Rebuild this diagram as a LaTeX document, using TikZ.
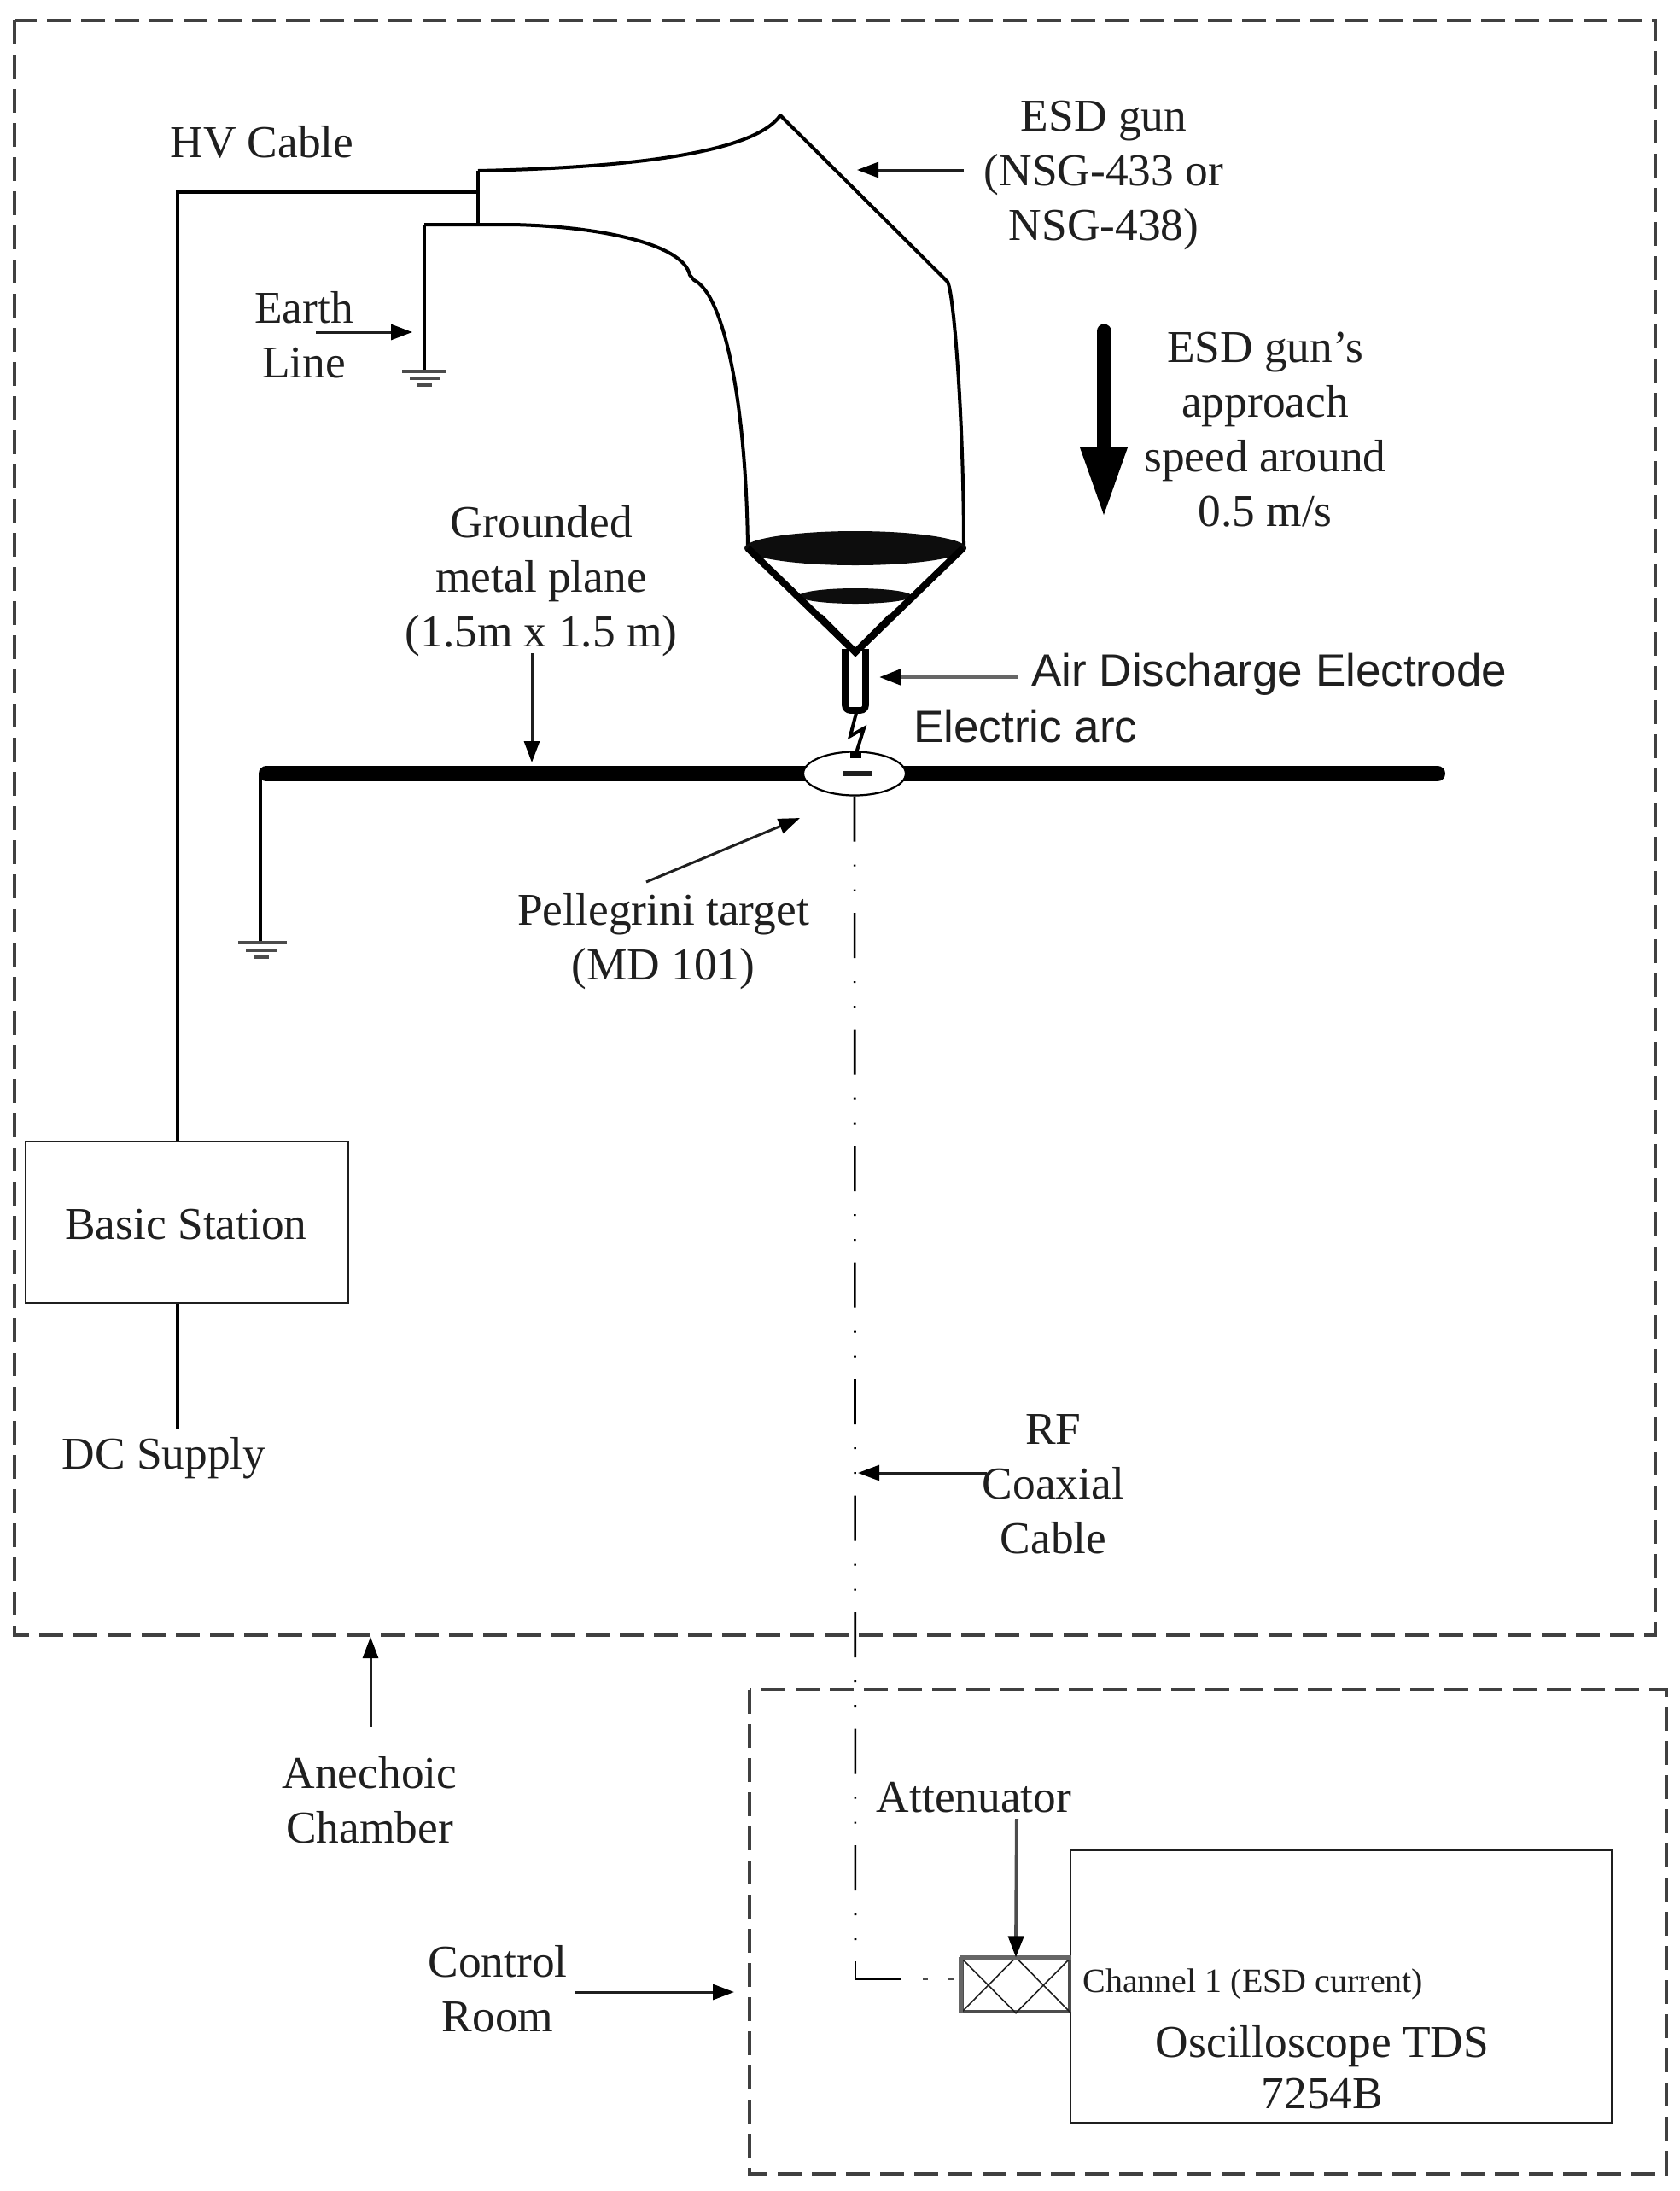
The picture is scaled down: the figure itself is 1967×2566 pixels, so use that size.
\documentclass[tikz,border=0pt]{standalone}
\usepackage{fontspec}
\setmainfont{Liberation Serif}
\newfontfamily\sansf{Liberation Sans}
\usetikzlibrary{arrows.meta,shapes.geometric}
\definecolor{ink}{gray}{0.12}
\tikzset{
  lbl/.style={text=ink,font=\fontsize{26.7}{32}\selectfont,align=center,inner sep=0pt},
  sanslbl/.style={text=ink,font=\sansf\fontsize{26.5}{32}\selectfont,anchor=west,inner sep=0pt},
  wire/.style={line width=1.6pt,draw=black},
  arr/.style={line width=1.5pt,draw=ink,-{Triangle[length=12.5pt,width=9pt,color=black]}},
  boundary/.style={line width=1.8pt,draw=black!75,dash pattern=on 14pt off 6pt},
  box/.style={draw=ink,line width=1.3pt,inner sep=0pt,fill=white},
  gun/.style={line width=2pt,draw=black,line join=round},
  coax/.style={line width=1.3pt,draw=black,dash pattern=on 26.5pt off 13.5pt on 1pt off 13.5pt on 1pt off 12.75pt},
  gnd/.style={draw=black!70,line width=2.4pt},
}
\begin{document}
\begin{tikzpicture}[x=0.5pt,y=-0.5pt]
\useasboundingbox (0,0) rectangle (1967,2566);
% boundaries
\draw[boundary] (17,24) rectangle (1939,1915);
\draw[boundary] (878,1979) rectangle (1952,2546);
% gun body
\draw[gun] (560,200) .. controls (700,197) and (880,185) .. (914,135)
  -- (1110,330) .. controls (1118,345) and (1129,500) .. (1129,642);
\draw[gun] (497,263) -- (600,263) .. controls (700,265) and (800,285) .. (808,322)
  -- (813,328) .. controls (848,345) and (874,470) .. (876,642);
\draw[wire] (560,200) -- (560,263);
% HV + earth
\node[box,minimum width=189pt,minimum height=94.5pt] (bs) at (219,1431.5) {};
\node[lbl] (bstxt) at (218,1434) {Basic Station};
\coordinate (hv1) at (208,225);
\coordinate (hv2) at (560,225);
\draw[wire] (bs.north -| hv1) -- (hv1) -- (hv2);
\coordinate (dc) at (208,1673);
\draw[wire] (bs.south -| dc) -- (dc);
\coordinate (e1) at (497,263);
\coordinate (g1) at (497,435);
\draw[wire] (e1) -- (g1);
\draw[gnd] (471,435) -- (522,435) (480,443) -- (515,443) (488,451) -- (506,451);
% gun head
\fill[black!95] (1002,642) ellipse (130 and 20);
\fill[black!95] (1002,698) ellipse (66 and 9);
\draw[line width=4pt,line join=miter,draw=black] (876,642) -- (1002,764) -- (1128,642);
\draw[line width=3.8pt,draw=black,fill=white,rounded corners=3pt] (990,760) -- (990,832) -- (1014,832) -- (1014,760);
\draw[line width=4pt,line join=miter,draw=black] (960,722) -- (1002,764) -- (1044,722);
% plane and target
\draw[line width=9pt,line cap=round,draw=black] (312,906) -- (1684,906);
\coordinate (pg) at (305,906);
\coordinate (pg2) at (305,1104);
\draw[wire] (pg) -- (pg2);
\draw[gnd] (279,1104) -- (336,1104) (288,1113) -- (325,1113) (298,1121) -- (315,1121);
\node[ellipse,draw=black,line width=1.1pt,fill=white,minimum width=60pt,minimum height=25.5pt,inner sep=0pt] (target) at (1001,906) {};
\draw[line width=2.6pt,draw=ink] (988,906) -- (1021,906);
% arc
\draw[line width=2pt,draw=black,line join=miter] (1003,835) -- (996,862) -- (1012,853) -- (1002,885);
\fill[black] (996,880) rectangle (1009,888);
% coax
\coordinate (cb) at (1002,2297);
\coordinate (cc) at (1002,2318);
\coordinate (cd) at (1055,2318);
\coordinate (d1a) at (1081,2318);\coordinate (d1b) at (1087,2318);
\coordinate (d2a) at (1111,2318);\coordinate (d2b) at (1117,2318);
\draw[coax] (target.south) -- (cb);
\draw[line width=1.4pt,draw=black] (cb) -- (cc) -- (cd);
\draw[line width=1pt,draw=black!70] (d1a) -- (d1b) (d2a) -- (d2b);
% oscilloscope and attenuator
\node[box,minimum width=317pt,minimum height=159.5pt] (osc) at (1571,2326.5) {};
\node[lbl,font=\fontsize{26.7}{30}\selectfont] (osctxt) at (1549,2421) {Oscilloscope TDS\\7254B};
\node[draw=black!70,line width=1.6pt,fill=white,inner sep=0pt,minimum width=63pt,minimum height=31pt] (att) at (1190,2325) {};
\draw[line width=.8pt,draw=ink] (att.north west) -- (att.south) -- (att.north east) (att.south west) -- (att.north) -- (att.south east);
\draw[line width=2.8pt,draw=black!60] (att.north west) -- (att.north east) (att.north west) -- (att.south west);
\node[lbl,font=\fontsize{20}{24}\selectfont,anchor=west] (ch) at (1268,2324) {Channel 1 (ESD current)};
% labels
\node[lbl] (hvl) at (307,166) {HV Cable};
\node[lbl] (gunl) at (1293,205) {ESD gun\\(NSG-433 or\\NSG-438)};
\node[lbl] (earth) at (356,392) {Earth\\Line};
\node[lbl] (speed) at (1482,503) {ESD gun’s\\approach\\speed around\\0.5 m/s};
\node[lbl] (plane) at (634,681) {Grounded\\metal plane\\(1.5m x 1.5 m)};
\node[sanslbl] (air) at (1208,790) {Air Discharge Electrode};
\node[sanslbl] (arc) at (1070,851) {Electric arc};
\node[lbl] (pell) at (777,1103) {Pellegrini target\\(MD 101)};
\node[lbl] (dcl) at (192,1708) {DC Supply};
\node[lbl] (rf) at (1234,1738) {RF\\Coaxial\\Cable};
\node[lbl] (anech) at (433,2108) {Anechoic\\Chamber};
\node[lbl] (ctrl) at (583,2329) {Control\\Room};
\node[lbl] (attl) at (1141,2105) {Attenuator};
% arrows
\coordinate (a1) at (1129,199);\coordinate (a2) at (1004,199);
\draw[arr] (a1) -- (a2);
\coordinate (b1) at (370,389);\coordinate (b2) at (483,389);
\draw[arr] (b1) -- (b2);
\coordinate (c1) at (623,765);\coordinate (c2) at (623,893);
\draw[arr] (c1) -- (c2);
\coordinate (d1) at (1192,793);\coordinate (d2) at (1030,793);
\draw[arr,draw=black!60,line width=2.2pt] (d1) -- (d2);
\coordinate (f1) at (757,1033);\coordinate (f2) at (937,958);
\draw[arr] (f1) -- (f2);
\coordinate (h1) at (1156,1725);\coordinate (h2) at (1005,1725);
\draw[arr] (h1) -- (h2);
\coordinate (i1) at (434,2023);\coordinate (i2) at (434,1917);
\draw[arr] (i1) -- (i2);
\coordinate (j1) at (674,2333);\coordinate (j2) at (860,2333);
\draw[arr] (j1) -- (j2);
\coordinate (k1) at (1191,2130);
\draw[arr,draw=black!70,line width=2pt] (k1) -- (att.north);
% bold arrow
\coordinate (m1) at (1293,388);\coordinate (m2) at (1293,524);
\draw[line width=8.5pt,line cap=round,draw=black] (m1) -- (m2);
\fill[black] (1265,524) -- (1321,524) -- (1293,603) -- cycle;
\end{tikzpicture}
\end{document}
